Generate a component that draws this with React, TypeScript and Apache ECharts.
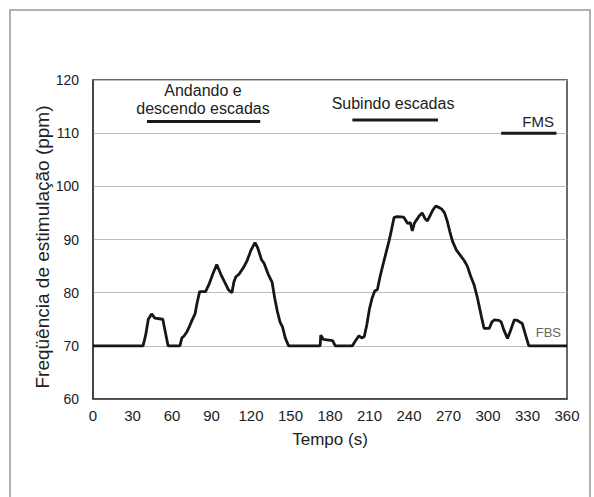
import React, { useEffect, useRef } from "react";
import * as echarts from "echarts";

// Tempo (s)
const times = [
  0, 38, 40, 42, 44.5, 47, 53, 55, 57, 66, 67.5, 69, 71, 73, 75, 77.5, 79, 81, 85.5, 88, 91, 94, 97, 100,
  103, 105.5, 107, 108.5, 111, 114.5, 117, 120, 123, 125, 128, 130, 133, 136, 138, 140, 142, 144, 146,
  148.5, 172.5, 173, 175, 182, 184, 197, 199, 202, 204, 206, 208, 210, 212, 214, 216, 218, 221, 224.8,
  226, 228.6, 231, 236, 239, 241, 242.5, 244, 245.5, 248, 250, 252, 254, 256, 258, 260.3, 263, 265, 267,
  269, 271, 273, 276, 279, 282, 284.3, 287, 289.4, 292, 295, 297, 301, 303, 305, 308, 310, 312, 314.8,
  317, 320, 322, 326, 328, 331, 360,
];
// Frequência de estimulação (ppm)
const values = [
  70, 70, 72, 75, 76, 75.2, 75, 72.5, 70, 70, 71.5, 71.8, 72.5, 73.5, 74.7, 76, 78, 80.2, 80.2, 81.5, 83.5,
  85.3, 83.5, 82, 80.5, 80, 82, 83, 83.5, 84.8, 86, 88, 89.4, 88.5, 86.2, 85.5, 83.5, 82, 79, 76.5, 74.5,
  73.5, 71.5, 70, 70, 72, 71.2, 71, 70, 70, 70.8, 71.9, 71.5, 71.7, 74, 77, 79, 80.3, 80.6, 83, 86, 89.7,
  91, 94.1, 94.3, 94.2, 93, 93.2, 91.6, 93, 93.6, 94.5, 95, 94, 93.5, 94.5, 95.5, 96.3, 96, 95.7, 95, 93.5,
  91.5, 89.7, 88, 87, 86, 85, 83, 81.5, 79, 75.5, 73.3, 73.3, 74.5, 74.9, 74.8, 74.5, 73, 71.4, 72.8, 74.9,
  74.8, 74.2, 72.5, 70, 70,
];

// Activity periods (start, end, level)
const walkDownPeriod = [41, 127];
const walkDownLevel = 112.2;
const climbPeriod = [197, 262];
const climbLevel = 112.5;
const fmsPeriod = [310, 352];
const fmsLevel = 110;

const xTicks = { min: 0, max: 360, interval: 30 };
const yTicks = { min: 60, max: 120, interval: 10 };

const FONT = "Liberation Sans, Arial, sans-serif";

export default function App() {
  const ref = useRef<HTMLDivElement>(null);
  useEffect(() => {
    if (!ref.current) return;
    const chart = echarts.init(ref.current, undefined, { renderer: "svg" });
    const seg = (p: number[], lvl: number) => ({
      type: "line",
      data: [
        [p[0], lvl],
        [p[1], lvl],
      ],
      symbol: "none",
      lineStyle: { color: "#1a1a1a", width: 3 },
      silent: true,
      z: 3,
    });
    chart.setOption({
      animation: false,
      backgroundColor: "#ffffff",
      grid: {
        left: 93,
        right: 27,
        top: 80,
        bottom: 98,
        show: true,
        borderColor: "#3a3a3a",
        borderWidth: 1.5,
      },
      xAxis: {
        type: "value",
        min: xTicks.min,
        max: xTicks.max,
        interval: xTicks.interval,
        axisLine: { show: true, lineStyle: { color: "#3a3a3a", width: 1.5 } },
        axisTick: { show: false },
        splitLine: { show: false },
        axisLabel: { color: "#222", fontSize: 15, fontFamily: FONT, margin: 9 },
        name: "Tempo (s)",
        nameLocation: "middle",
        nameGap: 32,
        nameTextStyle: { color: "#222", fontSize: 17, fontFamily: FONT },
      },
      yAxis: {
        type: "value",
        min: yTicks.min,
        max: yTicks.max,
        interval: yTicks.interval,
        axisLine: { show: true, lineStyle: { color: "#3a3a3a", width: 1.5 } },
        axisTick: { show: false },
        splitLine: { show: true, lineStyle: { color: "#bcbcbc", width: 1 } },
        axisLabel: { color: "#222", fontSize: 14, fontFamily: FONT, margin: 14 },
      },
      graphic: [
        {
          type: "rect",
          shape: { x: 10, y: 10, width: 580, height: 490 },
          style: { fill: "none", stroke: "#999", lineWidth: 1.5 },
          z: -10,
        },
        {
          type: "text",
          x: 42,
          y: 247,
          rotation: Math.PI / 2,
          style: {
            text: "Freqüência de estimulação (ppm)",
            fontSize: 19,
            fontFamily: FONT,
            fill: "#222",
            align: "center",
            verticalAlign: "middle",
          },
        },
        {
          type: "text",
          x: 203,
          y: 90,
          style: { text: "Andando e", fontSize: 16, fontFamily: FONT, fill: "#222", align: "center", verticalAlign: "middle" },
        },
        {
          type: "text",
          x: 203,
          y: 108,
          style: { text: "descendo escadas", fontSize: 16, fontFamily: FONT, fill: "#222", align: "center", verticalAlign: "middle" },
        },
        {
          type: "text",
          x: 393,
          y: 103,
          style: { text: "Subindo escadas", fontSize: 16, fontFamily: FONT, fill: "#222", align: "center", verticalAlign: "middle" },
        },
        {
          type: "text",
          x: 554,
          y: 121,
          style: { text: "FMS", fontSize: 15, fontFamily: FONT, fill: "#222", align: "right", verticalAlign: "middle" },
        },
        {
          type: "text",
          x: 561,
          y: 332,
          style: { text: "FBS", fontSize: 13, fontFamily: FONT, fill: "#666", align: "right", verticalAlign: "middle" },
        },
      ],
      series: [
        {
          type: "line",
          data: times.map((t, i) => [t, values[i]]),
          symbol: "none",
          lineStyle: { color: "#161616", width: 2.8 },
          z: 4,
        },
        seg(walkDownPeriod, walkDownLevel),
        seg(climbPeriod, climbLevel),
        seg(fmsPeriod, fmsLevel),
      ],
    });
    return () => chart.dispose();
  }, []);
  return (
    <div
      ref={ref}
      style={{ position: "fixed", left: 0, top: 0, width: 594, height: 497, background: "#fff" }}
    />
  );
}
